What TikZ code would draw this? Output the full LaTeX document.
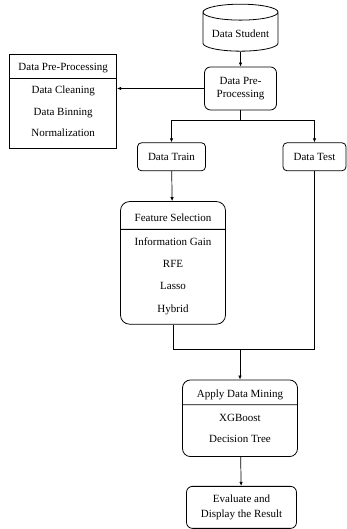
\documentclass[tikz,border=0pt]{standalone}
\usepackage{fontspec}
\setmainfont{Liberation Serif}
\usetikzlibrary{positioning,arrows.meta,shapes.multipart,shapes.geometric}

\newcommand{\topgap}[1]{\rule{0pt}{#1}}
\newcommand{\botgap}[1]{\rule[-#1]{0pt}{#1}}

\begin{document}
\begin{tikzpicture}[
        box/.style   = {rectangle, draw, line width=0.8pt, rounded corners=5pt,
                        align=center, inner sep=2pt,
                        font=\fontsize{11}{13}\selectfont},
        splitbox/.style = {rectangle split, rectangle split parts=2, draw,
                        line width=0.8pt, align=center, inner ysep=0pt, inner xsep=3pt},
        db/.style    = {cylinder, shape border rotate=90, draw, line width=0.8pt,
                        aspect=0.25, minimum width=75pt, minimum height=47pt,
                        font=\fontsize{11}{13}\selectfont},
        line/.style  = {line width=0.7pt},
        arr/.style   = {line, -{Latex[length=4pt,width=3.5pt]}}
    ]
    \useasboundingbox (0,0) rectangle (347pt,-529pt);
    \node[db] (student) at (240.5pt,-33.5pt) {Data Student};
    \node[box, below=15pt of student, minimum width=72pt, minimum height=43pt,
          rounded corners=6pt] (pre) {Data Pre-\\Processing};
    \node[splitbox, left=87pt of pre, yshift=-13pt, minimum width=107pt,
          font=\fontsize{11}{21.5}\selectfont] (prelist)
        {\topgap{15.5pt}Data Pre-Processing\botgap{7.5pt}
         \nodepart{two}\topgap{15.5pt}Data Cleaning\\Data Binning\\Normalization\botgap{11.5pt}};
    \node[box, below=32pt of pre, xshift=-69pt, minimum width=68pt, minimum height=28pt,
          rounded corners=4pt] (train) {Data Train};
    \node[box, below=32pt of pre, xshift=74pt, minimum width=63pt, minimum height=28pt,
          rounded corners=4pt] (test) {Data Test};
    \node[splitbox, below=30pt of train, xshift=1.5pt, minimum width=105pt,
          rounded corners=9pt, font=\fontsize{11}{22.3}\selectfont] (fs)
        {\topgap{20pt}Feature Selection\botgap{7pt}
         \nodepart{two}\topgap{15.5pt}Information Gain\\RFE\\Lasso\\Hybrid\botgap{11.6pt}};
    \node[splitbox, below=55pt of fs, xshift=67pt, minimum width=115pt,
          rounded corners=8pt, font=\fontsize{11}{21.6}\selectfont] (adm)
        {\topgap{16.8pt}Apply Data Mining\botgap{7.2pt}
         \nodepart{two}\topgap{16.2pt}XGBoost\\Decision Tree\botgap{13.2pt}};
    \node[box, below=29pt of adm, xshift=1.5pt, minimum width=110pt, minimum height=42pt,
          rounded corners=6pt, font=\fontsize{11}{14.4}\selectfont] (eval)
        {Evaluate and\\Display the Result};
    % connectors
    \draw[arr] (student) -- (pre);
    \draw[arr] (pre.west) -- (prelist.east |- pre.west);
    \coordinate[below=10pt of pre] (fork);
    \draw[line] (pre) -- (fork);
    \draw[arr] (fork) -| (train);
    \draw[arr] (fork) -| (test);
    \draw[arr] (train) -- (fs);
    \coordinate[below=25pt of fs] (joinL);
    \draw[line] (fs) -- (joinL) -- (joinL -| test.south) -- (test);
    \draw[arr] (joinL -| adm.north) -- (adm);
    \draw[arr] (adm) -- (eval);
\end{tikzpicture}
\end{document}
